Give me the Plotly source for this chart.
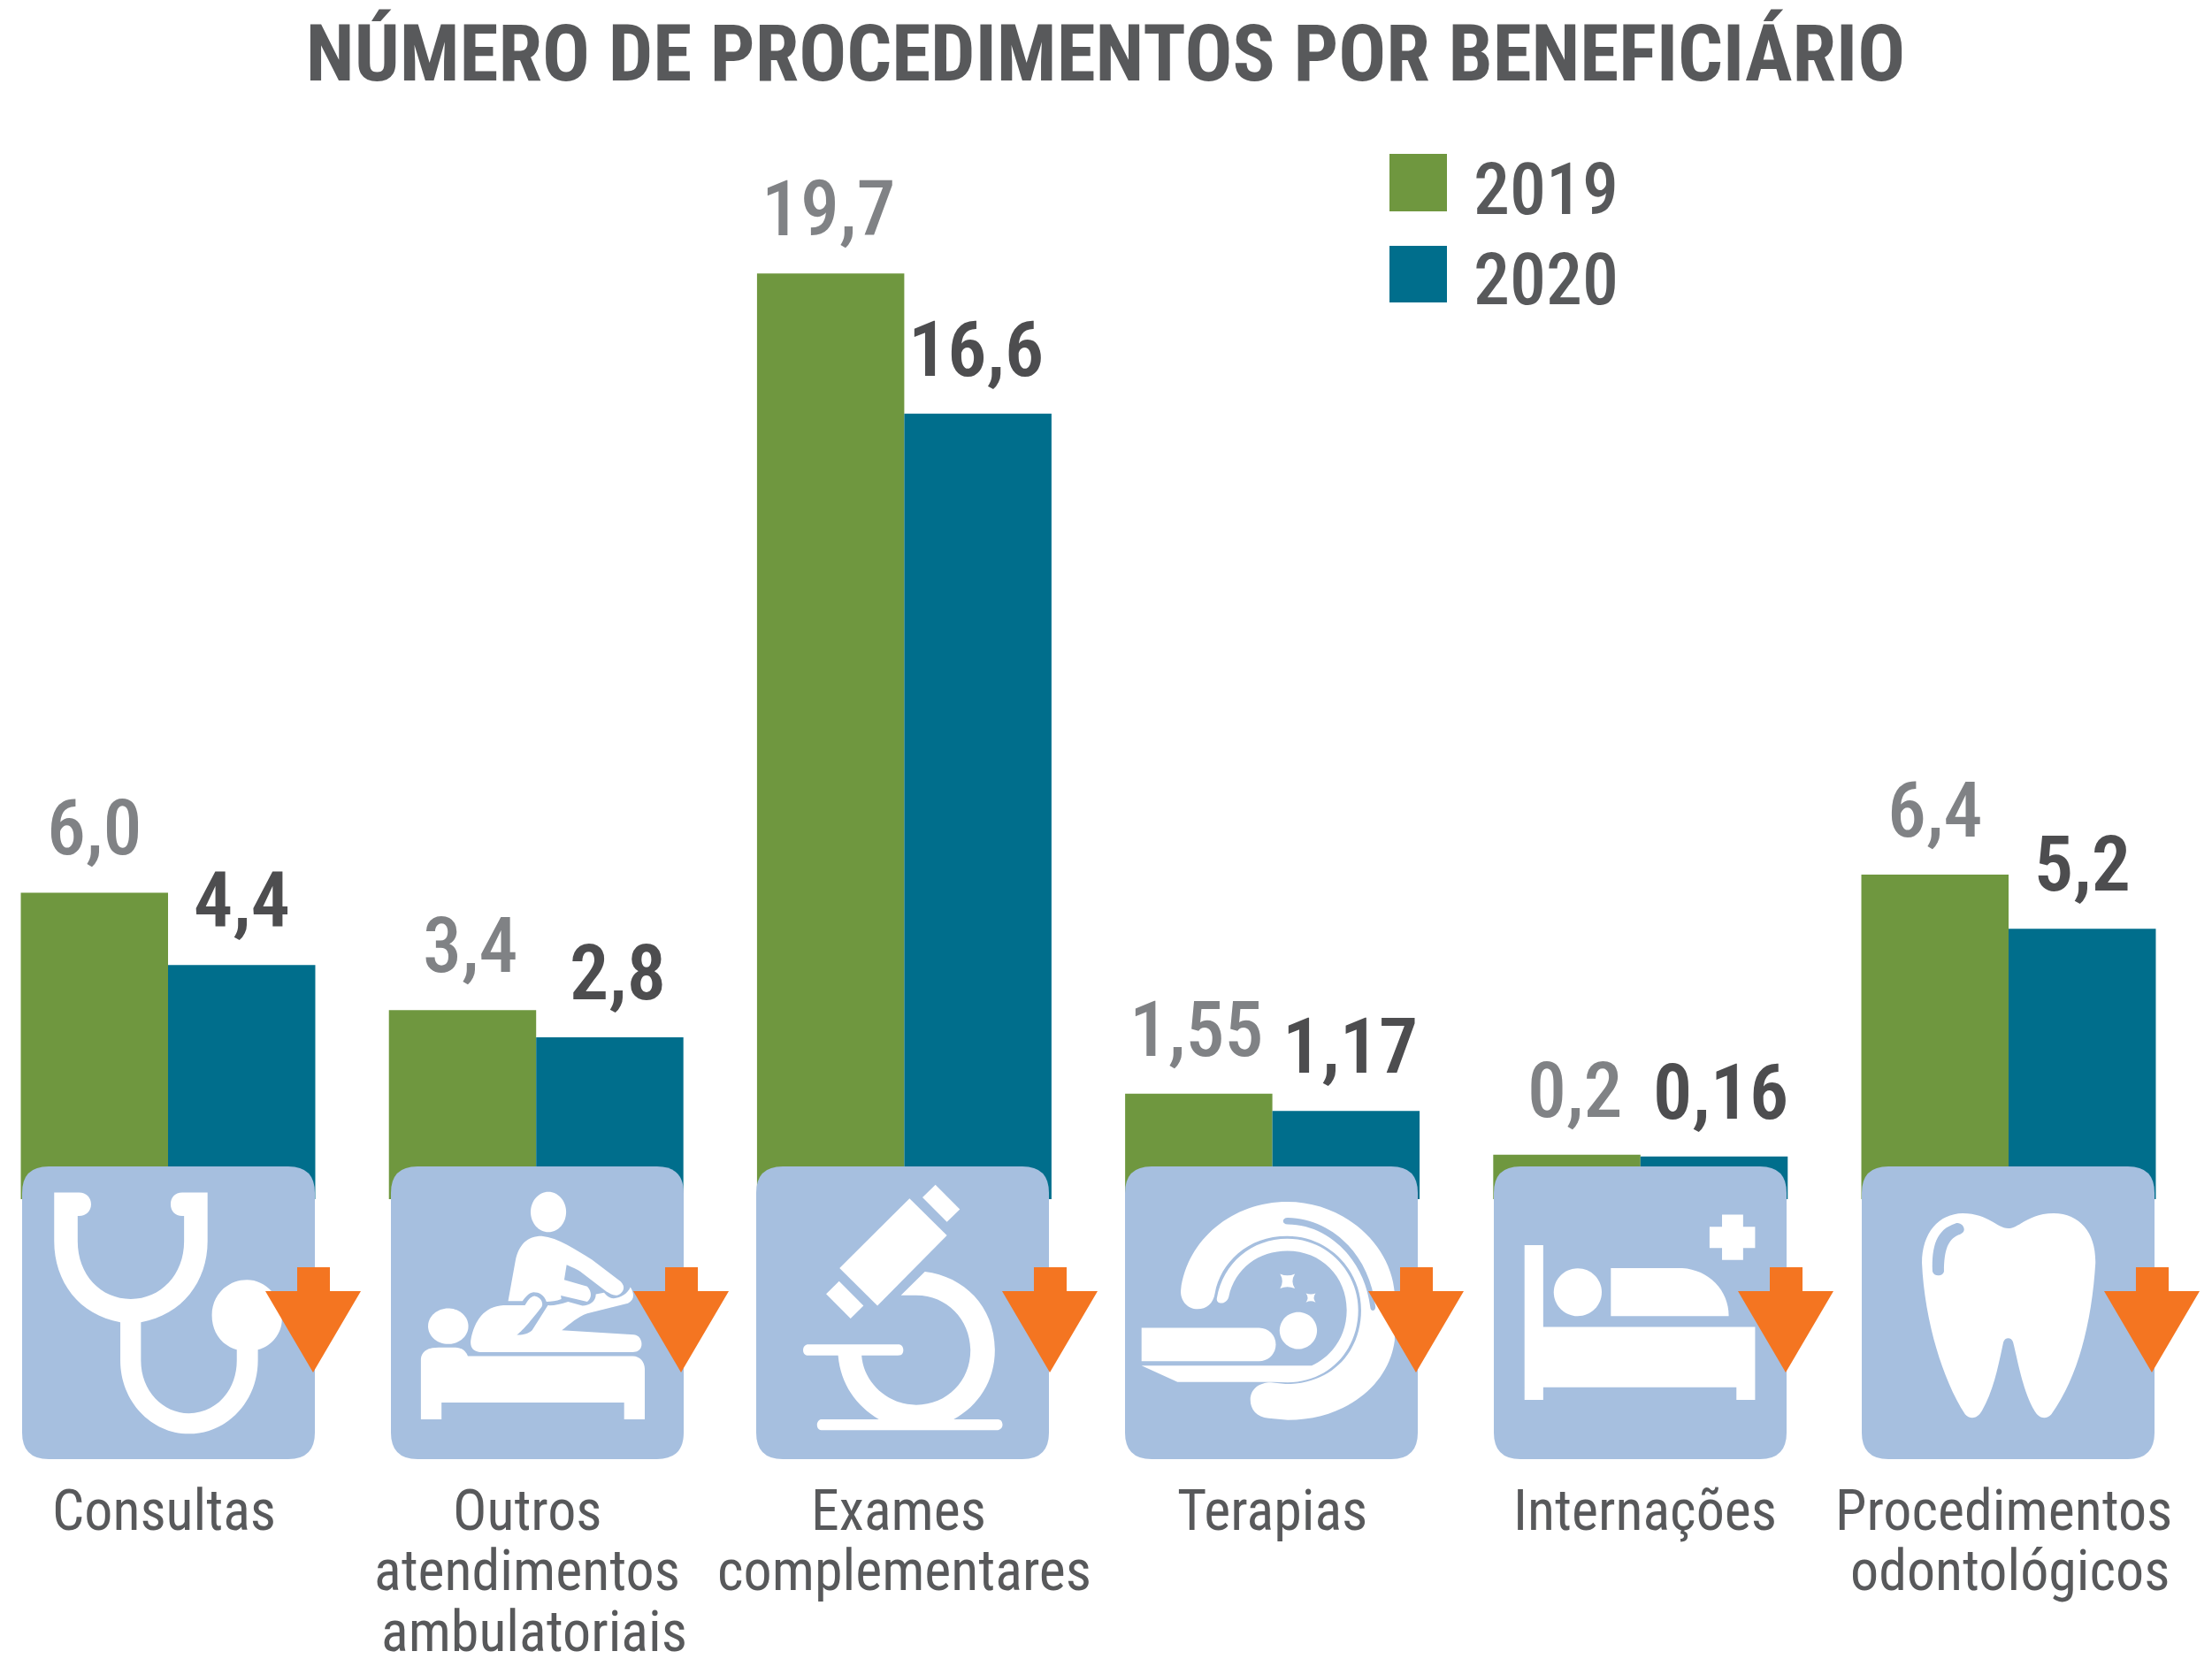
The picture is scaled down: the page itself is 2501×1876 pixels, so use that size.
import re
import plotly.graph_objects as go

categories = ["Consultas", "Outros atendimentos ambulatoriais", "Exames complementares",
              "Terapias", "Internações", "Procedimentos odontológicos"]
values_2019 = [6.0, 3.4, 19.7, 1.55, 0.2, 6.4]
values_2020 = [4.4, 2.8, 16.6, 1.17, 0.16, 5.2]
labels_2019 = ["6,0", "3,4", "19,7", "1,55", "0,2", "6,4"]
labels_2020 = ["4,4", "2,8", "16,6", "1,17", "0,16", "5,2"]
category_lines = [["Consultas"], ["Outros", "atendimentos", "ambulatoriais"], ["Exames", "complementares"],
                  ["Terapias"], ["Internações"], ["Procedimentos", "odontológicos"]]

GREEN = "#6f973f"
TEAL = "#006e8c"
TILE = "#a6bfdf"
ORANGE = "#f47521"
TEXT = "#58595b"
LABEL_2019 = "#808285"
LABEL_2020 = "#4d4d4f"
FONT = "Roboto Condensed, Roboto, sans-serif"

# the page has an 8px body margin, everything below is measured on the full 2501x1876 picture
PAGE = 8
W, H = 2501 - PAGE, 1876 - PAGE
BAND = 416.2      # px per category
FIRST_X = 190     # px of first category centre
ZERO_Y = 1316     # px of value 0
UNIT = 51.1       # px per value
BAR_FLOOR = -(1356 - ZERO_Y) / UNIT   # bars run on behind the icon tiles


def px_path(path, fx=lambda v: v, fy=lambda v: v):
    # convert "M x,y L x,y ..." from picture pixels to paper coordinates
    out, is_x = [], True
    for tok in re.findall(r"[A-Za-z]|-?\d+\.?\d*", path):
        if tok.isalpha():
            out.append(tok)
        elif is_x:
            out.append(f"{(fx(float(tok)) - PAGE) / W:.5f}")
            is_x = False
        else:
            out.append(f"{1 - (fy(float(tok)) - PAGE) / H:.5f}")
            is_x = True
    return " ".join(out)


def crop_path(path, x0):
    # icons are traced on the zoomed crops, 1.845 wide and 2.631 tall per pixel
    return px_path(path, lambda v: x0 + v / 1.845, lambda v: 1280 + v / 2.631)


def ell(cx, cy, rx, ry):
    k = 0.5523
    return (f"M{cx-rx},{cy} C{cx-rx},{cy-k*ry} {cx-k*rx},{cy-ry} {cx},{cy-ry} "
            f"C{cx+k*rx},{cy-ry} {cx+rx},{cy-k*ry} {cx+rx},{cy} "
            f"C{cx+rx},{cy+k*ry} {cx+k*rx},{cy+ry} {cx},{cy+ry} "
            f"C{cx-k*rx},{cy+ry} {cx-rx},{cy+k*ry} {cx-rx},{cy} Z")


def shape(path, color):
    return dict(type="path", xref="paper", yref="paper", path=path, fillcolor=color,
                line=dict(width=0), layer="above")


stethoscope = ("M113,180 L165,180 C180,180 190,195 190,215 C190,235 180,250 165,250 L162,250 L162,325 "
               "C162,425 210,497 273,497 C335,497 384,425 384,325 L384,250 L380,250 C365,250 356,235 356,215 "
               "C356,195 365,180 380,180 L433,180 L433,325 C433,445 380,545 294,566 L294,680 "
               "C294,770 340,837 394,837 C450,837 494,770 494,680 L494,648 C462,635 442,595 442,545 "
               "C442,485 475,440 515,440 C555,440 588,490 588,560 C588,600 565,640 538,648 L538,680 "
               "C538,800 475,898 394,898 C315,898 251,800 251,680 L251,566 C165,545 113,445 113,325 Z")
massage = [
    ell(1144, 238, 37, 60),
    "M1060,503 L1075,385 C1082,335 1100,310 1130,310 C1165,315 1200,350 1235,380 L1295,445 C1305,460 1302,475 1290,485 "
    "C1280,490 1272,480 1265,475 L1215,420 C1205,408 1190,400 1182,395 L1177,440 L1225,460 C1235,475 1235,495 1225,505 "
    "L1170,487 L1171,497 C1160,503 1150,505 1140,505 C1135,485 1125,477 1113,477 C1102,478 1095,495 1090,503 Z",
    "M1095,516 L1050,516 C1010,520 990,560 982,620 C980,645 990,655 1005,655 L1320,655 C1335,655 1340,640 1338,625 "
    "C1336,610 1330,605 1322,603 L1172,590 C1190,570 1205,550 1225,540 L1310,510 C1322,500 1325,485 1315,462 "
    "C1310,480 1295,495 1280,495 C1270,495 1265,485 1260,478 L1243,483 C1243,505 1230,517 1215,517 L1185,505 "
    "C1170,512 1155,517 1143,516 L1110,590 C1103,600 1090,605 1078,604 C1090,590 1100,575 1130,520 "
    "C1135,505 1125,490 1115,488 C1105,490 1100,505 1095,516 Z",
    ell(935, 578, 42, 53),
    "M878,855 L878,675 C880,650 895,641 915,641 L950,641 C965,641 973,655 976,667 L1320,667 C1335,667 1345,685 1345,705 "
    "L1345,855 L1302,855 L1302,805 L921,805 L921,855 Z",
]
microscope = [
    "M366,198 L444,308 L299,517 L220,405 Z",
    "M420,157 L471,230 L444,268 L393,195 Z",
    "M219,444 L270,517 L243,555 L192,482 Z",
    "M398,416 C480,430 544,520 544,650 C544,740 510,815 458,855 L550,855 C558,855 560,865 560,871 C560,880 555,887 550,887 "
    "L182,887 C175,887 173,877 173,871 C173,862 178,855 182,855 L302,855 C255,815 222,750 217,665 L155,665 "
    "C146,665 144,655 144,649 C144,640 148,632 155,632 L342,632 C350,632 353,640 353,649 C353,658 350,665 342,665 "
    "L266,665 C270,745 320,812 380,812 C445,812 493,740 493,650 C493,560 445,486 380,486 L348,486 Z",
]
scanner = [
    "M932,470 C945,320 1040,208 1154,208 C1270,208 1370,330 1378,480 L1378,620 C1365,760 1270,857 1155,857 L1115,852 "
    "C1090,848 1077,825 1077,797 C1077,765 1095,745 1120,745 L1150,750 C1250,750 1308,650 1308,530 C1308,410 1240,310 1154,310 "
    "C1070,310 1015,390 1003,480 C1000,510 985,527 967,527 C945,527 930,500 932,470 Z",
    "M1007,495 C1020,390 1080,318 1154,318 C1240,318 1302,420 1302,530 C1302,650 1240,745 1155,745 L1125,744 L925,744 L850,695 "
    "L1205,695 C1245,670 1278,610 1278,530 C1278,430 1225,354 1154,354 C1095,354 1045,405 1032,490 C1028,515 1005,515 1007,495 Z",
    "M850,583 L1095,583 C1115,583 1130,605 1130,632 C1130,660 1115,682 1095,682 L850,682 Z",
    ell(1177, 591, 39, 55),
    "M1139,422 Q1154,432 1170,422 Q1160,444 1170,466 Q1154,456 1139,466 Q1148,444 1139,422 Z",
    "M1193,480 Q1203,486 1213,480 Q1206,493 1213,507 Q1203,500 1193,507 Q1200,493 1193,480 Z",
]
scanner_strip = ("M1155,255 C1245,258 1325,360 1338,520 C1338,535 1327,535 1327,520 C1315,380 1240,275 1155,275 "
                 "C1142,275 1142,255 1155,255 Z")
bed = [
    "M136,337 L175,337 L175,580 L617,580 L617,797 L578,797 L578,760 L175,760 L175,797 L136,797 Z",
    ell(247, 477, 50, 71),
    "M316,405 L465,405 C520,410 562,470 562,548 L316,548 Z",
    "M548,246 L592,246 L592,282 L617,282 L617,345 L592,345 L592,381 L548,381 L548,345 L522,345 L522,282 L548,282 Z",
]
tooth = ("M1145,287 C1170,285 1185,243 1240,242 C1295,243 1328,300 1327,390 C1320,550 1295,720 1235,840 "
         "C1225,855 1210,855 1200,830 C1175,770 1165,680 1155,625 C1152,610 1138,610 1135,625 C1125,690 1115,770 1090,830 "
         "C1080,855 1065,855 1055,840 C1005,730 970,550 965,390 C965,300 1000,243 1050,242 C1105,243 1120,285 1145,287 Z")
tooth_shine = ("M1035,272 C1045,268 1053,280 1053,290 C1053,300 1045,305 1040,307 C1020,320 1011,350 1011,415 "
               "C1009,430 990,432 987,415 C985,340 995,290 1035,272 Z")

shapes = []

# icon tiles
for left in [25, 442, 855, 1272, 1689, 2105]:
    r, w, top, bottom = 30, 331, 1319, 1650
    right = left + w
    shapes.append(shape(px_path(
        f"M{left+r},{top} L{right-r},{top} Q{right},{top} {right},{top+r} L{right},{bottom-r} "
        f"Q{right},{bottom} {right-r},{bottom} L{left+r},{bottom} Q{left},{bottom} {left},{bottom-r} "
        f"L{left},{top+r} Q{left},{top} {left+r},{top} Z"), TILE))

# icons, each list with the left edge of its crop
shapes.append(shape(crop_path(stethoscope, 0), "white"))
shapes += [shape(crop_path(p, 0), "white") for p in massage]
shapes += [shape(crop_path(p, 830), "white") for p in microscope]
shapes += [shape(crop_path(p, 830), "white") for p in scanner]
shapes.append(shape(crop_path(scanner_strip, 830), TILE))
shapes += [shape(crop_path(p, 1650), "white") for p in bed]
shapes.append(shape(crop_path(tooth, 1650), "white"))
shapes.append(shape(crop_path(tooth_shine, 1650), TILE))

# down arrows
for cx in [354, 770, 1187, 1601, 2019, 2433]:
    shapes.append(shape(px_path(
        f"M{cx-18},1433 L{cx+19},1433 L{cx+19},1460 L{cx+54},1460 L{cx},1552 L{cx-54},1460 L{cx-18},1460 Z"), ORANGE))

# legend squares
shapes.append(shape(px_path("M1571,174 L1636,174 L1636,239 L1571,239 Z"), GREEN))
shapes.append(shape(px_path("M1571,278 L1636,278 L1636,342 L1571,342 Z"), TEAL))

annotations = []

# value labels over the bars, nudged a little where the original is off centre
nudge_2019 = [0, 9, -2, -3, 9, 0]
nudge_2020 = [0, 9, -2, 5, 8, 0]
for i in range(len(categories)):
    annotations.append(dict(x=i, y=values_2019[i], text=labels_2019[i], xref="x", yref="y",
                            xshift=-83 + nudge_2019[i], yshift=20, yanchor="bottom", showarrow=False,
                            font=dict(family=FONT, size=88, color=LABEL_2019, weight=500)))
    annotations.append(dict(x=i, y=values_2020[i], text=labels_2020[i], xref="x", yref="y",
                            xshift=83 + nudge_2020[i], yshift=20, yanchor="bottom", showarrow=False,
                            font=dict(family=FONT, size=88, color=LABEL_2020, weight=600)))

# category names, one annotation per line because the lines sit closer than plotly's line height
line_shift = [[-5], [-10, -10, -2], [-6, 0], [0], [5], [-6, 1]]
for i, lines in enumerate(category_lines):
    for j, line in enumerate(lines):
        annotations.append(dict(x=i, y=1 - (1708 + j * 68.5 - PAGE) / H, xref="x", yref="paper", xshift=line_shift[i][j],
                                text=line, yanchor="middle", showarrow=False,
                                font=dict(family=FONT, size=64, color=TEXT)))

# legend text
for name, py in [("2019", 214), ("2020", 316)]:
    annotations.append(dict(x=(1664 - PAGE) / W, y=1 - (py - PAGE) / H, xref="paper", yref="paper", text=name,
                            xanchor="left", yanchor="middle", showarrow=False,
                            font=dict(family=FONT, size=82, color=TEXT, weight=500)))

fig = go.Figure()
fig.add_trace(go.Bar(x=categories, y=[v - BAR_FLOOR for v in values_2019], base=BAR_FLOOR, name="2019",
                     marker=dict(color=GREEN, line=dict(width=0))))
fig.add_trace(go.Bar(x=categories, y=[v - BAR_FLOOR for v in values_2020], base=BAR_FLOOR, name="2020",
                     marker=dict(color=TEAL, line=dict(width=0))))

fig.update_layout(
    width=W, height=H,
    margin=dict(l=0, r=0, t=0, b=0),
    paper_bgcolor="white", plot_bgcolor="white",
    barmode="group", bargap=0.2, bargroupgap=0,
    showlegend=False,
    title=dict(text="NÚMERO DE PROCEDIMENTOS POR BENEFICIÁRIO", x=(1250 - PAGE) / W, xanchor="center",
               y=1 - (60 - PAGE) / H, yanchor="middle", font=dict(family=FONT, size=89.5, color=TEXT, weight=700)),
    xaxis=dict(type="category", categoryorder="array", categoryarray=categories,
               range=[(PAGE - FIRST_X) / BAND, (2501 - FIRST_X) / BAND],
               showticklabels=False, showgrid=False, zeroline=False, showline=False, ticks=""),
    yaxis=dict(range=[(ZERO_Y - 1876) / UNIT, (ZERO_Y - PAGE) / UNIT],
               showticklabels=False, showgrid=False, zeroline=False, showline=False, ticks=""),
    shapes=shapes,
    annotations=annotations,
)

fig.write_html("out.html")
